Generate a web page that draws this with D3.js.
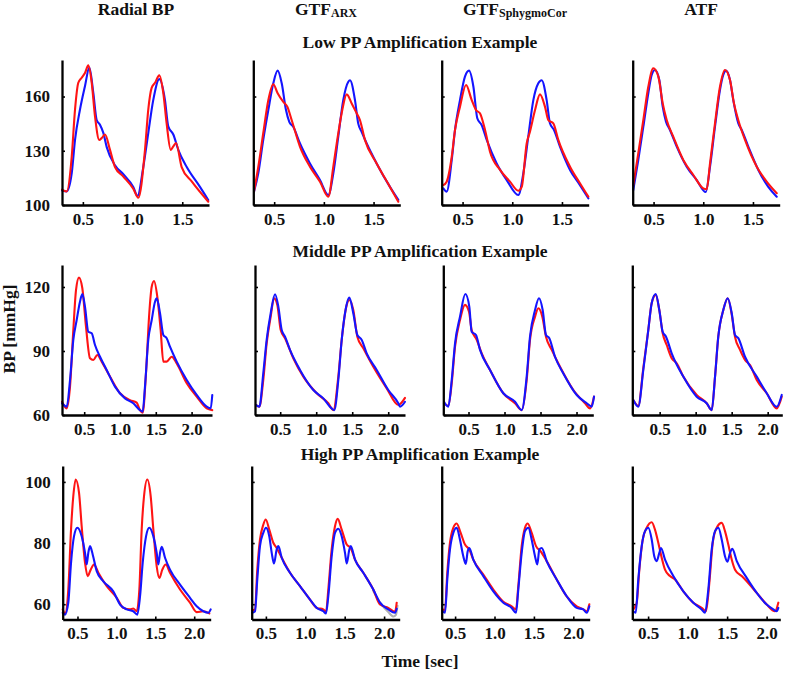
<!DOCTYPE html>
<html>
<head>
<meta charset="utf-8">
<script src="https://cdn.jsdelivr.net/npm/d3@7"></script>
<style>
  html, body { margin: 0; padding: 0; background: #fff; }
  svg { display: block; }
  text { font-family: "Liberation Serif", "Times New Roman", serif; font-weight: bold; fill: #111; }
</style>
</head>
<body>
<script>
// ---------------- DATA ----------------
const columnTitles = [["Radial BP", ""], ["GTF", "ARX"], ["GTF", "SphygmoCor"], ["ATF", ""]];
const rowTitles = ["Low PP Amplification Example", "Middle PP Amplification Example", "High PP Amplification Example"];
const yTickValues = [[100, 130, 160], [60, 90, 120], [60, 80, 100]];
const xTickValues = [[0.5, 1.0, 1.5], [0.5, 1.0, 1.5, 2.0], [0.5, 1.0, 1.5, 2.0]];
const yLabel = "BP [mmHg]";
const xLabel = "Time [sec]";

// Low PP amplification example  [time (s), BP (mmHg)]
const lowRadialBlue = [[0.29,108],[0.337,107.5],[0.388,117.6],[0.421,136],[0.471,152.8],[0.521,165.7],[0.565,176],[0.605,162],[0.639,147],[0.672,144.4],[0.705,140],[0.74,132],[0.823,122],[0.907,117],[1.007,110],[1.05,105],[1.108,121],[1.158,139.8],[1.208,158],[1.269,169.6],[1.326,158],[1.359,143.5],[1.41,139],[1.46,130.5],[1.545,121],[1.678,110],[1.762,102.7]];
const lowRadialRed = [[0.29,108.5],[0.337,107.5],[0.388,126.8],[0.421,152.8],[0.454,167.6],[0.488,170.4],[0.521,173],[0.555,177.2],[0.589,167.6],[0.622,149],[0.665,136],[0.689,137],[0.723,139],[0.773,130.5],[0.823,121],[0.907,115.7],[1.007,109],[1.058,104],[1.125,130.5],[1.158,152.8],[1.192,164.8],[1.226,167.6],[1.269,171.7],[1.309,162],[1.343,145],[1.384,130.5],[1.41,132.4],[1.437,134.3],[1.494,121],[1.595,113],[1.762,101.8]];
const lowArxBlue = [[0.297,107.4],[0.34,117.5],[0.39,136],[0.441,152.5],[0.491,167.3],[0.535,174.3],[0.576,167.3],[0.619,152.5],[0.652,146],[0.692,143.3],[0.76,134],[0.86,123],[0.961,113.8],[1.045,105.5],[1.095,117.5],[1.145,137.8],[1.195,158],[1.246,168.2],[1.263,169],[1.313,158],[1.346,145],[1.38,140.5],[1.431,134],[1.531,123],[1.665,110],[1.749,102.8]];
const lowArxRed = [[0.297,107.4],[0.34,121],[0.39,139.7],[0.441,158],[0.491,166.8],[0.535,161.8],[0.592,157],[0.632,154.4],[0.676,147],[0.76,132.2],[0.86,121.2],[0.961,112.9],[1.045,104.6],[1.095,121.2],[1.129,134],[1.179,150.7],[1.23,161.2],[1.28,156.2],[1.33,150.7],[1.363,147],[1.413,136],[1.531,123],[1.665,110],[1.749,101.8]];
const lowSphygBlue = [[0.306,109.2],[0.34,107.4],[0.391,124.9],[0.424,141.5],[0.474,158],[0.524,171],[0.565,174.3],[0.609,165.4],[0.648,148],[0.692,144.2],[0.743,136],[0.843,123],[0.944,113.8],[1.061,105.5],[1.111,117.5],[1.161,137.8],[1.212,158],[1.262,167.3],[1.296,169],[1.346,158],[1.379,145.2],[1.42,141.5],[1.48,132.3],[1.581,119.4],[1.681,111],[1.765,103.7]];
const lowSphygRed = [[0.306,111],[0.34,112.9],[0.391,126.7],[0.424,141.5],[0.474,154.4],[0.535,166.4],[0.592,158],[0.636,152.5],[0.675,150.7],[0.726,141.5],[0.776,129.5],[0.877,119.4],[0.977,112.9],[1.061,107.9],[1.095,110],[1.145,134],[1.178,140.5],[1.229,152.5],[1.279,161.2],[1.329,154.4],[1.363,147],[1.413,145.2],[1.463,136],[1.581,121.2],[1.681,112],[1.765,104.6]];
const lowAtfBlue = [[0.296,108.3],[0.346,124.9],[0.397,143.3],[0.447,161.8],[0.481,171.9],[0.514,174.7],[0.558,169.1],[0.592,154.4],[0.625,146.1],[0.665,141.5],[0.733,132.3],[0.833,121.2],[0.934,113.8],[1.025,107.2],[1.068,121.2],[1.118,143.3],[1.168,163.6],[1.201,171.9],[1.229,174.3],[1.269,169.1],[1.302,158],[1.352,145.2],[1.387,141.5],[1.453,132.3],[1.554,119.4],[1.654,110],[1.739,104.6]];
const lowAtfRed = [[0.296,111],[0.346,128.6],[0.397,147],[0.447,165.4],[0.497,175.6],[0.548,171],[0.592,156.2],[0.632,147],[0.698,137.8],[0.799,124.9],[0.9,116.6],[1.0,109.2],[1.034,108.7],[1.068,123],[1.118,145.2],[1.168,165.4],[1.218,174.7],[1.269,169.1],[1.309,156.2],[1.352,147],[1.42,136],[1.538,121.2],[1.638,112.9],[1.739,106.5]];

// Middle PP amplification example
const midRadialBlue = [[0.19,65.5],[0.256,63.9],[0.302,76.4],[0.348,95.2],[0.395,104.5],[0.441,113.1],[0.474,116.7],[0.511,110.8],[0.557,99],[0.605,98.3],[0.651,92.8],[0.721,87.3],[0.814,81.1],[0.93,73.3],[1.07,67.8],[1.186,65.5],[1.279,62.3],[1.317,61.6],[1.349,73.3],[1.395,95.2],[1.443,104.5],[1.489,113.1],[1.513,114.7],[1.559,107.7],[1.605,97.5],[1.652,96],[1.698,92],[1.792,85],[1.932,76.4],[2.071,69.4],[2.211,63.9],[2.267,63.1],[2.289,69.4]];
const midRadialRed = [[0.19,66.2],[0.256,63.1],[0.302,73.3],[0.348,99.8],[0.386,118.6],[0.427,124.4],[0.474,119.4],[0.525,101.4],[0.581,86.6],[0.627,85.8],[0.683,88.1],[0.744,85],[0.86,78],[1.0,70.2],[1.14,67],[1.233,65.8],[1.279,62.3],[1.317,61.1],[1.363,79.5],[1.409,107.7],[1.443,120.1],[1.475,122.8],[1.521,115.5],[1.568,99.8],[1.605,85],[1.652,85],[1.722,87.3],[1.792,84.2],[1.932,74.9],[2.071,68.6],[2.211,63.1],[2.289,62.3]];
const midArxBlue = [[0.164,64.7],[0.21,63.9],[0.265,79.5],[0.312,95.2],[0.368,107.7],[0.428,116.6],[0.474,110.8],[0.521,99.8],[0.567,96.7],[0.636,90.5],[0.775,81.1],[0.96,71.7],[1.099,67.8],[1.215,63.1],[1.251,62.3],[1.307,76.4],[1.354,95.2],[1.4,107.7],[1.46,115],[1.515,107.7],[1.571,97.5],[1.632,95.2],[1.701,88.9],[1.84,81.1],[2.001,71.7],[2.14,65.5],[2.164,63.9],[2.233,66.2]];
const midArxRed = [[0.164,64.7],[0.21,63.9],[0.265,76.4],[0.312,93.6],[0.368,106.1],[0.414,114.7],[0.46,111.6],[0.507,99.8],[0.567,96],[0.682,86.6],[0.821,78],[1.007,70.2],[1.168,65.5],[1.238,62.3],[1.307,78],[1.354,95.2],[1.424,111.6],[1.46,113.9],[1.515,109.2],[1.571,96.7],[1.654,91.3],[1.793,82.6],[1.979,72.5],[2.14,64.7],[2.233,68]];
const midSphygBlue = [[0.16,66.2],[0.219,63.9],[0.267,76.4],[0.313,93.6],[0.382,106.1],[0.456,116.7],[0.511,110.8],[0.544,99],[0.604,97.5],[0.66,90.5],[0.799,81.1],[0.983,70.2],[1.146,66.2],[1.239,62.3],[1.308,78],[1.354,96.7],[1.424,109.2],[1.479,114.7],[1.53,109.2],[1.576,97.5],[1.622,96],[1.701,87.3],[1.817,79.5],[2.003,69.4],[2.142,65.5],[2.211,63.9],[2.243,68.6]];
const midSphygRed = [[0.16,65.5],[0.219,64.3],[0.267,74.9],[0.313,92],[0.382,104.5],[0.451,111.6],[0.507,108.4],[0.544,99.8],[0.614,95.2],[0.683,88.9],[0.799,81.1],[0.983,70.2],[1.146,65.5],[1.239,62.3],[1.308,76.4],[1.354,95.2],[1.424,106.1],[1.47,110],[1.525,106.1],[1.576,96.7],[1.656,90.5],[1.771,82.6],[1.956,71.7],[2.118,65.5],[2.188,63.1],[2.243,68.6]];
const midAtfBlue = [[0.134,67],[0.203,63.9],[0.273,81.1],[0.342,99.8],[0.389,112.4],[0.445,116.7],[0.495,109.2],[0.542,99],[0.588,96.7],[0.667,88.9],[0.828,78],[1.014,68.6],[1.153,65.5],[1.223,62.3],[1.269,78],[1.314,96.7],[1.384,109.2],[1.445,114.7],[1.501,107.7],[1.546,97.5],[1.592,96],[1.685,87.3],[1.848,78],[1.987,70.2],[2.126,63.9],[2.195,69.4]];
const midAtfRed = [[0.134,67],[0.203,64.3],[0.273,82],[0.342,99.8],[0.389,112.4],[0.445,116.3],[0.495,109.2],[0.542,98.3],[0.598,92.8],[0.667,86.6],[0.737,84.2],[0.828,78],[1.014,69.4],[1.153,65.5],[1.223,62.3],[1.269,78],[1.314,96.7],[1.384,109.2],[1.445,114.7],[1.501,107],[1.546,96.7],[1.616,90.5],[1.685,85.8],[1.755,83.4],[1.848,76.4],[1.987,70.2],[2.126,63.1],[2.195,68.6]];

// High PP amplification example
const highRadialBlue = [[0.31,57.2],[0.34,56.6],[0.382,60.5],[0.417,73.5],[0.455,82.2],[0.498,85],[0.554,82.2],[0.597,76.8],[0.618,73],[0.639,76.8],[0.661,79],[0.696,76.2],[0.747,70.8],[0.832,67.5],[0.96,64.2],[1.047,59.9],[1.133,58.3],[1.217,57.7],[1.269,56.6],[1.304,62.6],[1.338,73.5],[1.381,82.2],[1.423,85],[1.475,82.2],[1.518,76.8],[1.539,73],[1.561,76.8],[1.583,78.8],[1.625,75.2],[1.689,71.3],[1.818,66.4],[1.946,62.1],[2.032,59.3],[2.117,57.7],[2.181,57.2],[2.212,58.3]];
const highRadialRed = [[0.31,58.3],[0.34,57],[0.382,64.8],[0.417,84.4],[0.446,95.3],[0.477,100.8],[0.52,96.4],[0.554,85.5],[0.597,73.5],[0.631,69.2],[0.67,71.3],[0.712,73],[0.768,70.3],[0.876,65.9],[1.004,62.1],[1.089,58.8],[1.175,58.3],[1.217,58.6],[1.261,57.7],[1.295,64.8],[1.325,84.4],[1.355,95.3],[1.397,100.8],[1.441,95.3],[1.475,84.4],[1.518,72.4],[1.552,68.6],[1.59,71.3],[1.634,73],[1.689,70.3],[1.818,64.8],[1.946,60.5],[2.032,57.4],[2.117,57.7],[2.194,57]];
const highArxBlue = [[0.328,57.2],[0.362,57.7],[0.391,68.1],[0.425,79],[0.467,83.3],[0.501,85],[0.543,82.2],[0.574,76.8],[0.603,73.3],[0.637,77.9],[0.658,79],[0.701,75.2],[0.806,70.3],[0.933,65.9],[1.06,61.5],[1.145,58.8],[1.229,57.7],[1.263,57],[1.292,62.6],[1.335,75.7],[1.377,83.3],[1.419,84.7],[1.462,82.2],[1.504,76.8],[1.526,73.3],[1.559,77.9],[1.576,79],[1.631,74.6],[1.736,70.3],[1.863,64.8],[1.948,60.5],[2.053,58.3],[2.139,57.2],[2.16,58.5]];
const highArxRed = [[0.328,58],[0.362,58.3],[0.391,71.3],[0.425,81.1],[0.467,86],[0.498,87.7],[0.543,84.4],[0.594,80.1],[0.637,78.4],[0.701,75.2],[0.806,70.3],[0.933,65.9],[1.06,61.5],[1.145,58.8],[1.229,58.3],[1.263,57.5],[1.292,64.8],[1.335,77.9],[1.377,85.5],[1.411,87.9],[1.462,84.4],[1.526,79.5],[1.576,78.4],[1.631,74.6],[1.736,70.3],[1.863,64.8],[1.948,59.9],[2.053,58.8],[2.139,57.5],[2.16,60.5]];
const highArxGrey = [[1.86,64.5],[1.95,60.5],[2.05,57.5],[2.12,56],[2.15,56.5],[2.17,59.5]];
const highSphygBlue = [[0.343,57.7],[0.372,57.2],[0.401,68.1],[0.435,77.9],[0.477,83.3],[0.52,85],[0.562,81.1],[0.604,75.7],[0.635,73.2],[0.66,77.3],[0.68,78.4],[0.731,74.6],[0.858,69.2],[0.985,64.2],[1.112,60.5],[1.218,58.8],[1.273,57.2],[1.302,64.8],[1.345,76.8],[1.387,83.9],[1.429,85],[1.472,81.1],[1.514,75.7],[1.543,73],[1.569,77.9],[1.599,78.4],[1.662,74.1],[1.789,68.1],[1.916,62.6],[2.043,58.8],[2.127,58.3],[2.17,57.2],[2.203,59.3]];
const highSphygRed = [[0.343,58.3],[0.372,58],[0.401,70.3],[0.435,80.1],[0.477,85],[0.52,86.4],[0.571,83.3],[0.626,79.5],[0.68,77.9],[0.731,74.6],[0.858,69.7],[0.985,64.8],[1.112,60.8],[1.218,59.3],[1.273,58.3],[1.302,65.9],[1.345,79],[1.387,85],[1.421,86.4],[1.472,83.3],[1.527,79],[1.586,77.3],[1.662,74.1],[1.789,68.1],[1.916,62.6],[2.043,59.3],[2.127,58.3],[2.17,57.7],[2.203,60]];
const highAtfBlue = [[0.313,57.7],[0.343,57.2],[0.376,68.1],[0.419,79],[0.461,83.9],[0.503,85],[0.546,81.1],[0.578,75.7],[0.609,74.1],[0.642,76.8],[0.663,78.4],[0.714,74.6],[0.819,69.2],[0.946,64.2],[1.072,60.5],[1.178,58.3],[1.22,57.2],[1.262,64.8],[1.305,77.9],[1.347,83.9],[1.389,85],[1.432,81.1],[1.473,75.7],[1.503,73.9],[1.537,76.8],[1.566,78.1],[1.622,74.1],[1.748,68.6],[1.875,63.7],[2.001,59.9],[2.085,58.3],[2.128,57.7],[2.148,58.8]];
const highAtfRed = [[0.313,58.3],[0.356,60.5],[0.389,71.3],[0.432,81.1],[0.482,85],[0.546,86.8],[0.587,84.4],[0.629,80.1],[0.672,75.2],[0.714,71.3],[0.777,69.2],[0.841,68.1],[0.946,64.2],[1.072,60.5],[1.178,58.8],[1.233,57.7],[1.275,67],[1.318,80.1],[1.368,85],[1.432,86.6],[1.473,83.9],[1.515,79.5],[1.558,74.6],[1.6,71.3],[1.685,69.2],[1.748,67.5],[1.875,63.7],[2.001,59.9],[2.106,57.7],[2.148,60.5]];

// panels: [row][col] -> list of series (drawing order)
const BLUE = "#1414ff", RED = "#ff1414", GREY = "#b0b0b0";
const panelSeries = [
  [[{d: lowRadialBlue, c: BLUE}, {d: lowRadialRed, c: RED}],
   [{d: lowArxBlue, c: BLUE}, {d: lowArxRed, c: RED}],
   [{d: lowSphygBlue, c: BLUE}, {d: lowSphygRed, c: RED}],
   [{d: lowAtfBlue, c: BLUE}, {d: lowAtfRed, c: RED}]],
  [[{d: midRadialRed, c: RED}, {d: midRadialBlue, c: BLUE}],
   [{d: midArxRed, c: RED}, {d: midArxBlue, c: BLUE}],
   [{d: midSphygRed, c: RED}, {d: midSphygBlue, c: BLUE}],
   [{d: midAtfRed, c: RED}, {d: midAtfBlue, c: BLUE}]],
  [[{d: highRadialRed, c: RED}, {d: highRadialBlue, c: BLUE}],
   [{d: highArxGrey, c: GREY}, {d: highArxRed, c: RED}, {d: highArxBlue, c: BLUE}],
   [{d: highSphygRed, c: RED}, {d: highSphygBlue, c: BLUE}],
   [{d: highAtfRed, c: RED}, {d: highAtfBlue, c: BLUE}]]
];

// ---------------- LAYOUT ----------------
const rowLayout = [
  {top: 60,  bottom: 205, width: 147, lefts: [62, 253.3, 441.7, 632.7],
   yDomain: [100, 180.2], xDomains: [[0.29, 1.769], [0.29, 1.769], [0.29, 1.769], [0.29, 1.769]], titleY: 48},
  {top: 265, bottom: 415, width: 150, lefts: [62, 255, 443.3, 632.3],
   yDomain: [60, 130.3], xDomains: [[0.19, 2.285], [0.15, 2.233], [0.15, 2.233], [0.12, 2.203]], titleY: 256.5},
  {top: 466, bottom: 619.5, width: 148, lefts: [62.7, 251.7, 441.7, 632.3],
   yDomain: [55, 105.2], xDomains: [[0.31, 2.212], [0.32, 2.198], [0.33, 2.208], [0.30, 2.173]], titleY: 460}
];
const colCenters = [136, 326, 515, 701];

const W = 787, H = 675;
const svg = d3.select("body").append("svg").attr("width", W).attr("height", H);

// column headers
columnTitles.forEach((t, i) => {
  const tx = svg.append("text").attr("x", colCenters[i]).attr("y", 15)
    .attr("text-anchor", "middle").style("font-size", "17.5px").text(t[0]);
  if (t[1]) tx.append("tspan").attr("dy", 2).style("font-size", "12px").text(t[1]);
});

const line = (x, y) => d3.line().x(d => x(d[0])).y(d => y(d[1])).curve(d3.curveMonotoneX);

rowLayout.forEach((L, r) => {
  svg.append("text").attr("x", 420).attr("y", L.titleY).attr("text-anchor", "middle")
    .style("font-size", "17.5px").text(rowTitles[r]);

  L.lefts.forEach((left, c) => {
    const x = d3.scaleLinear().domain(L.xDomains[c]).range([left, left + L.width]);
    const y = d3.scaleLinear().domain(L.yDomain).range([L.bottom, L.top]);
    const g = svg.append("g");

    // series
    panelSeries[r][c].forEach(s => {
      g.append("path").attr("d", line(x, y)(s.d))
        .attr("fill", "none").attr("stroke", s.c).attr("stroke-width", 2.1)
        .attr("stroke-linejoin", "round").attr("stroke-linecap", "round");
    });

    // axes
    const xa = g.append("g").attr("transform", `translate(0,${L.bottom})`)
      .call(d3.axisBottom(x).tickValues(xTickValues[r]).tickFormat(d3.format(".1f"))
        .tickSizeInner(-3).tickSizeOuter(0).tickPadding(7.5));
    const ya = g.append("g").attr("transform", `translate(${left},0)`)
      .call(d3.axisLeft(y).tickValues(yTickValues[r]).tickFormat(c === 0 ? d3.format("d") : () => "")
        .tickSizeInner(-3).tickSizeOuter(0).tickPadding(12));
    [xa, ya].forEach(a => {
      a.select(".domain").attr("stroke", "#000").attr("stroke-width", 2.3);
      a.selectAll(".tick line").attr("stroke", "#000").attr("stroke-width", 1.6);
      a.selectAll(".tick text").attr("fill", "#111")
        .style("font-family", '"Liberation Serif", serif').style("font-weight", "bold").style("font-size", "17px");
    });
  });
});

// axis titles
svg.append("text").attr("transform", "translate(15,329) rotate(-90)")
  .attr("text-anchor", "middle").style("font-size", "17.5px").text(yLabel);
svg.append("text").attr("x", 420).attr("y", 667).attr("text-anchor", "middle")
  .style("font-size", "17.5px").text(xLabel);
</script>
</body>
</html>
